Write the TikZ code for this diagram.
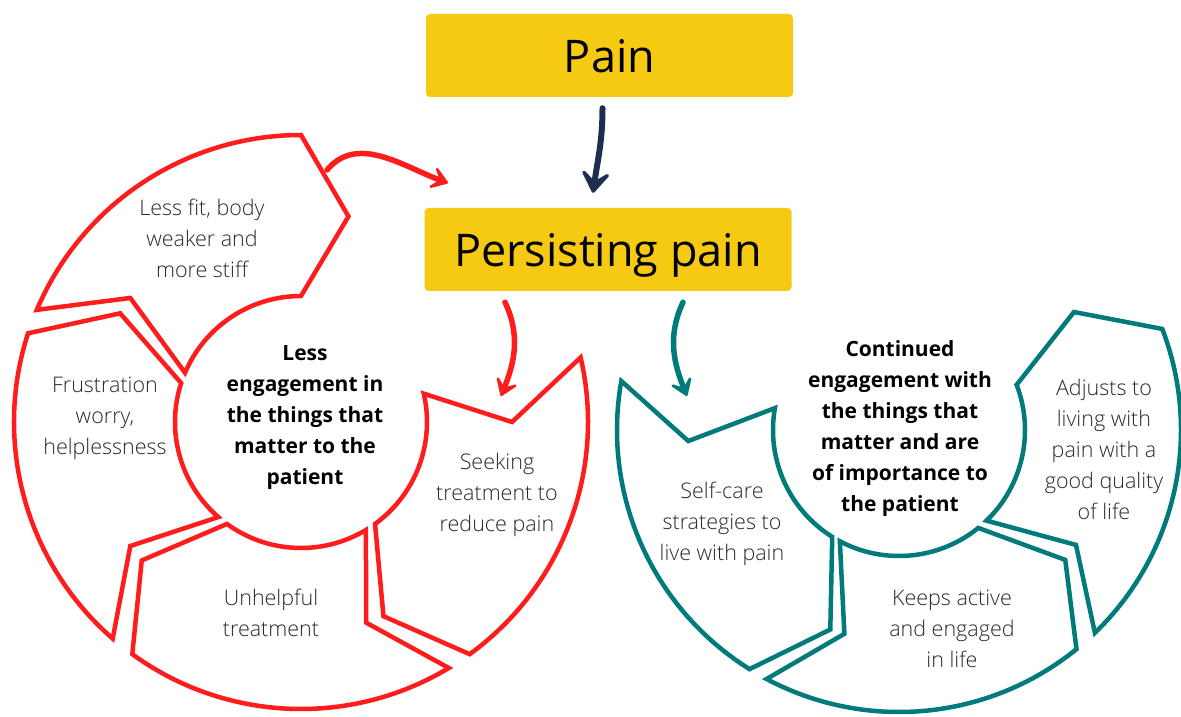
\documentclass[tikz,border=0pt]{standalone}
\usepackage{fontspec}
\setmainfont{Open Sans}
\newfontfamily\steplight{Open Sans Light}
\usetikzlibrary{arrows.meta,calc}

\definecolor{painyellow}{RGB}{246,202,18}
\definecolor{loopred}{RGB}{255,28,28}
\definecolor{loopteal}{RGB}{0,122,122}
\definecolor{painnavy}{RGB}{30,46,82}
\definecolor{steptextgray}{RGB}{40,40,40}

\tikzset{
  painbox/.style={fill=painyellow, minimum width=367pt, minimum height=83pt,
    rounded corners=4pt, inner sep=0pt, text depth=0pt,
    font=\fontsize{45}{50}\selectfont},
  steptext/.style={align=center, inner sep=0pt, text=steptextgray,
    font=\steplight\fontsize{21.5}{31}\selectfont},
  hubtext/.style={align=center, inner sep=0pt,
    font=\bfseries\fontsize{21}{31}\selectfont},
  ringred/.style={draw=loopred, line width=4.5pt},
  ringteal/.style={draw=loopteal, line width=4.5pt},
  looparrow/.style={line width=5.5pt, line cap=round,
    -{Stealth[round, length=22pt, width=30pt, inset=12pt]}},
  downarrow/.style={line width=6pt, line cap=round, draw=painnavy,
    -{Stealth[round, length=28pt, width=38pt, inset=15pt]}},
}

% one piece of a ring: centre, start angle, end angle, tip offset, style
\newcommand{\ringpart}[5]{%
  \draw[#5] ($(#1)+(#2:\ringout)$) arc[start angle=#2, end angle=#3, radius=\ringout]
    -- ($(#1)+({#3+#4}:\ringmid)$) -- ($(#1)+(#3:\ringin)$)
    arc[start angle=#3, end angle=#2, radius=\ringin]
    -- ($(#1)+({#2+#4}:\ringmid)$) -- cycle;
}

\begin{document}
\begin{tikzpicture}[x=1pt, y=1pt]
  \useasboundingbox (0,0) rectangle (1181,716);

  % top boxes
  \node[painbox] (pain) at (609.5,660.5) {Pain};
  \node[painbox] (persist) at (608,466.5) {Persisting pain};

  \coordinate (L) at (301,294);
  \coordinate (R) at (899,286);

  % left loop, runs clockwise
  \begin{scope}
    \def\ringout{287}\def\ringin{126}\def\ringmid{211}
    \ringpart{L}{157}{90}{-13}{ringred}
    \ringpart{L}{229}{162}{-13}{ringred}
    \ringpart{L}{-59}{-126}{-13}{ringred}
    \ringpart{L}{13}{-54}{-13}{ringred}
  \end{scope}

  % right loop, runs anticlockwise
  \begin{scope}
    \def\ringout{282}\def\ringin{126}\def\ringmid{211}
    \ringpart{R}{170}{238}{13}{ringteal}
    \ringpart{R}{242}{309}{13}{ringteal}
    \ringpart{R}{314}{381}{13}{ringteal}
  \end{scope}

  % texts of the left loop
  \node[hubtext] (lesshub) at (305,298)
    {Less\\engagement in\\the things that\\matter to the\\patient};
  \node[steptext] (fit) at (202,478) {Less fit, body\\weaker and\\more stiff};
  \node[steptext] (frustration) at (105,298) {Frustration\\worry,\\helplessness};
  \node[steptext] (unhelpful) at (271,103) {Unhelpful\\treatment};
  \node[steptext] (seeking) at (497,221) {Seeking\\treatment to\\reduce pain};

  % texts of the right loop
  \node[hubtext] (keephub) at (900,287)
    {Continued\\engagement with\\the things that\\matter and are\\of importance to\\the patient};
  \node[steptext] (selfcare) at (722,192) {Self-care\\strategies to\\live with pain};
  \node[steptext] (active) at (952,87) {Keeps active\\and engaged\\in life};
  \node[steptext] (adjusts) at (1104,267) {Adjusts to\\living with\\pain with a\\good quality\\of life};

  % arrows
  \coordinate (fitexit) at (327,546);
  \coordinate (persistentry) at (448,533);
  \coordinate (seekentry) at (501,320);
  \coordinate (selfentry) at (687,320);

  \draw[downarrow]
    ([xshift=-7pt,yshift=-11pt]pain.south) to[out=-90,in=82]
    ([xshift=-15pt,yshift=15pt]persist.north);
  \draw[looparrow, loopred] (fitexit) to[out=50,in=160] (persistentry);
  \draw[looparrow, loopred]
    ([xshift=-103pt,yshift=-11pt]persist.south) to[out=-65,in=68] (seekentry);
  \draw[looparrow, loopteal]
    ([xshift=75pt,yshift=-11pt]persist.south) to[out=-115,in=112] (selfentry);
\end{tikzpicture}
\end{document}
